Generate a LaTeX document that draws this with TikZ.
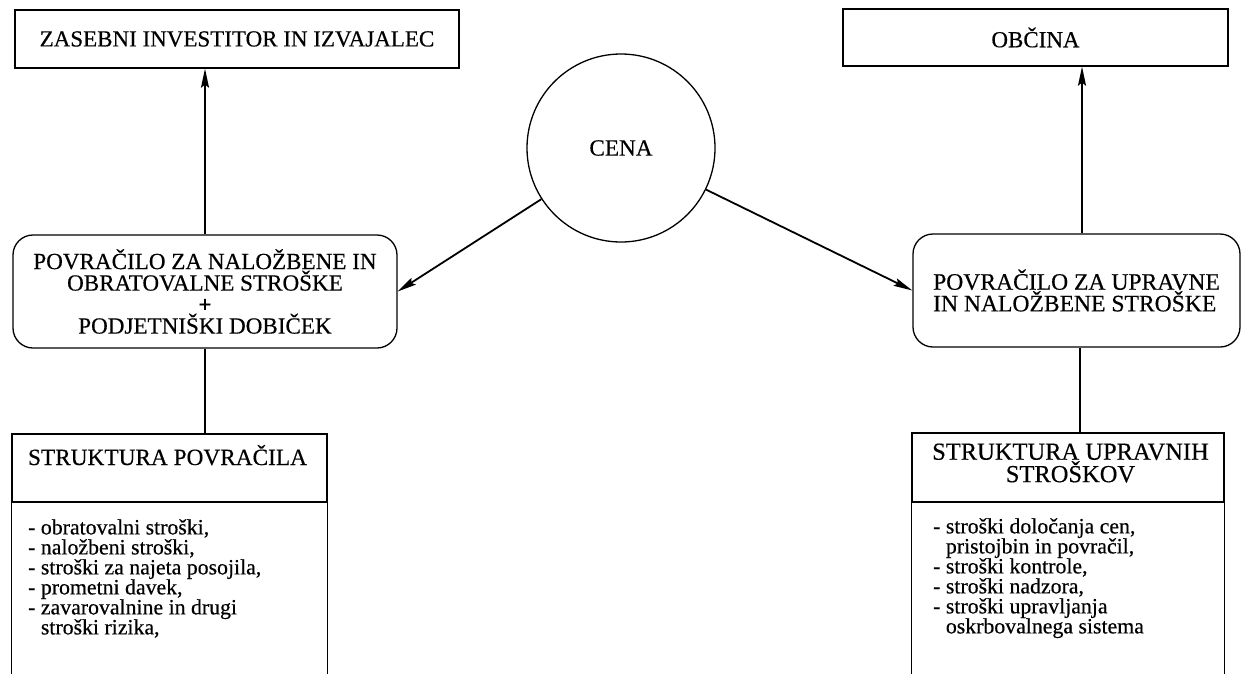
\documentclass[tikz,border=0pt]{standalone}
\usepackage{fontspec}
\setmainfont{Liberation Serif}[FakeBold=0.4]
\usetikzlibrary{arrows.meta}
\begin{document}
\begin{tikzpicture}[x=1pt,y=-1pt,
  frame/.style={draw, line width=1.3pt, inner sep=0pt},
  party/.style={frame, rectangle, font=\fontsize{23}{24}\selectfont},
  refund/.style={frame, rectangle, rounded corners=20pt, font=\fontsize{23.1}{21.5}\selectfont},
  link/.style={line width=1.8pt},
  flow/.style={link, -{Stealth[length=19pt,width=8pt,inset=3pt]}},
  heading/.style={inner sep=0pt, align=center},
  items/.style={font=\fontsize{21.8}{20}\selectfont, align=left, inner sep=0pt, anchor=north west},
]
\useasboundingbox (0,0) rectangle (1241,673);
\coordinate (bottom) at (0,690);

% parties at the top and the price in the middle
\node[party, minimum width=444pt, minimum height=58pt] (investor) at (237,39) {ZASEBNI INVESTITOR IN IZVAJALEC};
\node[party, minimum width=385pt, minimum height=57pt] (obcina) at (1035.5,37.5) {OBČINA};
\node[frame, circle, minimum size=188pt, font=\fontsize{23.2}{24}\selectfont] (cena) at (621,148) {CENA};

% refunds
\node[refund, minimum width=384pt, minimum height=113pt, align=center] (lbox) at (205,291.5)
  {POVRAČILO ZA NALOŽBENE IN\\OBRATOVALNE STROŠKE\\\textbf{+}\\PODJETNIŠKI DOBIČEK};
\node[refund, minimum width=327pt, minimum height=113pt, align=left, font=\fontsize{23.6}{20}\selectfont] (rbox) at (1076.5,290.5)
  {POVRAČILO ZA UPRAVNE\\IN NALOŽBENE STROŠKE};

% structure tables, open at the bottom
\node[frame, minimum width=315pt, minimum height=68pt] (s1) at (169.5,468) {};
\node[heading, anchor=base, font=\fontsize{23.3}{21}\selectfont] (s1t) at (167.5,465) {STRUKTURA POVRAČILA};
\draw[frame] (s1.south west) -- (s1.south west |- bottom);
\draw[frame] (s1.south east) -- (s1.south east |- bottom);
\node[items] (s1l) at (28,519) {- obratovalni stroški,\\- naložbeni stroški,\\- stroški za najeta posojila,\\- prometni davek,\\- zavarovalnine in drugi\\\hphantom{-\ }stroški rizika,};

\node[frame, minimum width=312pt, minimum height=69pt] (s2) at (1068,467.5) {};
\node[heading, font=\fontsize{24.5}{21}\selectfont] (s2t) at (1070.5,463) {STRUKTURA UPRAVNIH\\STROŠKOV};
\draw[frame] (s2.south west) -- (s2.south west |- bottom);
\draw[frame] (s2.south east) -- (s2.south east |- bottom);
\node[items] (s2l) at (933,518) {- stroški določanja cen,\\\hphantom{-\ }pristojbin in povračil,\\- stroški kontrole,\\- stroški nadzora,\\- stroški upravljanja\\\hphantom{-\ }oskrbovalnega sistema};

% connectors
\draw[flow] (lbox.north) -- (lbox.north |- investor.south);
\draw[flow] ([xshift=5.5pt]rbox.north) -- ([xshift=5.5pt]rbox.north |- obcina.south);
\draw[flow] (cena) -- (lbox.east);
\draw[flow] (cena) -- (rbox.west);
\draw[link] (lbox.south) -- (lbox.south |- s1.north);
\draw[link] ([xshift=3.5pt]rbox.south) -- ([xshift=3.5pt]rbox.south |- s2.north);
\end{tikzpicture}
\end{document}
